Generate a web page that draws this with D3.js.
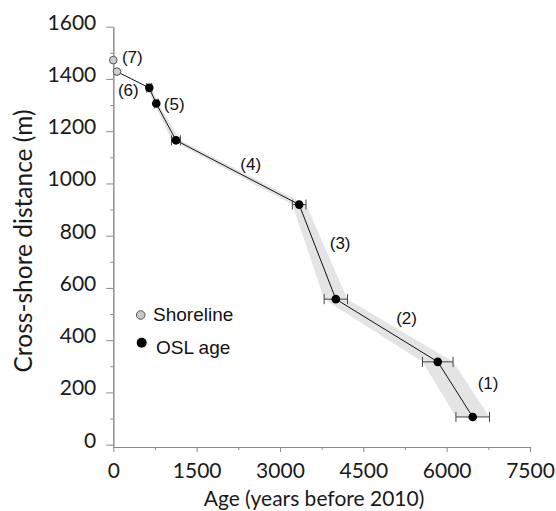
<!DOCTYPE html>
<html>
<head>
<meta charset="utf-8">
<script src="https://cdn.jsdelivr.net/npm/d3@7"></script>
<style>
  body { margin: 0; background: #fff; }
  .axis path, .axis line { stroke: #8a8a8a; }
  .axis text { font-family: Lato, sans-serif; font-size: 21px; fill: #1a1a1a; }
  .label { font-family: "Liberation Sans", Arial, sans-serif; fill: #111; }
</style>
</head>
<body>
<div id="chart"></div>
<script>
// shoreline positions (open circles), labelled (7) and (6)
const shoreAge = [0, 66];
const shoreDist = [1472, 1428];

// OSL ages with 1-sigma error (years)
const oslAge = [647, 773, 1128, 3345, 4005, 5840, 6469];
const oslDist = [1366, 1306, 1165, 919, 557, 317, 106];
const oslErr = [45, 35, 80, 123, 210, 275, 302];

// segment labels, placed in data units
const segLabels = ['(7)', '(6)', '(5)', '(4)', '(3)', '(2)', '(1)'];
const segAge = [342, 270, 1097, 2473, 4083, 5279, 6745];
const segDist = [1460, 1333, 1283, 1053, 750, 462, 213];

const xTicks = [0, 1500, 3000, 4500, 6000, 7500];
const yTicks = [0, 200, 400, 600, 800, 1000, 1200, 1400, 1600];

const width = 556, height = 511;

const svg = d3.select('#chart').append('svg')
    .attr('width', width)
    .attr('height', height);

const xScale = d3.scaleLinear().domain([0, 7500]).range([113.3, 530]);
const yScale = d3.scaleLinear().domain([-9, 1600]).range([447, 26.7]);

const shore = shoreAge.map((a, i) => ({age: a, dist: shoreDist[i]}));
const osl = oslAge.map((a, i) => ({age: a, dist: oslDist[i], err: oslErr[i]}));

// uncertainty band between error bar ends
const band = d3.area()
    .x0(d => xScale(d.age - d.err))
    .x1(d => xScale(d.age + d.err))
    .y(d => yScale(d.dist));

svg.append('path')
    .datum(osl)
    .attr('d', band)
    .attr('fill', '#e4e4e4');

// axes: minor ticks first, then major with labels
svg.append('g')
    .attr('class', 'axis')
    .attr('transform', `translate(0,${yScale(-9)})`)
    .call(d3.axisBottom(xScale).tickValues(d3.range(750, 7500, 1500)).tickSize(3).tickFormat('').tickSizeOuter(0));
svg.append('g')
    .attr('class', 'axis')
    .attr('transform', `translate(${xScale(0)},0)`)
    .call(d3.axisLeft(yScale).tickValues(d3.range(100, 1600, 200)).tickSize(3).tickFormat('').tickSizeOuter(0));

const xAxisG = svg.append('g')
    .attr('class', 'axis')
    .attr('transform', `translate(0,${yScale(-9)})`)
    .call(d3.axisBottom(xScale).tickValues(xTicks).tickFormat(d3.format('d'))
        .tickSize(5).tickPadding(11).tickSizeOuter(0));

const yAxisG = svg.append('g')
    .attr('class', 'axis')
    .attr('transform', `translate(${xScale(0)},0)`)
    .call(d3.axisLeft(yScale).tickValues(yTicks).tickFormat(d3.format('d'))
        .tickSize(7).tickPadding(10).tickSizeOuter(0));
yAxisG.selectAll('text').attr('dy', '0.12em');

// connecting line
const line = d3.line().x(d => xScale(d.age)).y(d => yScale(d.dist));
svg.append('path')
    .datum([shore[1]].concat(osl))
    .attr('d', line)
    .attr('fill', 'none')
    .attr('stroke', '#111')
    .attr('stroke-width', 1);

// error bars
const eb = svg.append('g').attr('stroke', '#444').attr('stroke-width', 1);
eb.selectAll('.eb-h')
  .data(osl)
  .join('line')
    .attr('x1', d => xScale(d.age - d.err))
    .attr('x2', d => xScale(d.age + d.err))
    .attr('y1', d => yScale(d.dist))
    .attr('y2', d => yScale(d.dist));
eb.selectAll('.eb-l')
  .data(osl)
  .join('line')
    .attr('x1', d => xScale(d.age - d.err))
    .attr('x2', d => xScale(d.age - d.err))
    .attr('y1', d => yScale(d.dist) - 5)
    .attr('y2', d => yScale(d.dist) + 5);
eb.selectAll('.eb-r')
  .data(osl)
  .join('line')
    .attr('x1', d => xScale(d.age + d.err))
    .attr('x2', d => xScale(d.age + d.err))
    .attr('y1', d => yScale(d.dist) - 5)
    .attr('y2', d => yScale(d.dist) + 5);

// points
svg.selectAll('.osl')
  .data(osl)
  .join('circle')
    .attr('class', 'osl')
    .attr('cx', d => xScale(d.age))
    .attr('cy', d => yScale(d.dist))
    .attr('r', 4.3)
    .attr('fill', '#000');

svg.selectAll('.shore')
  .data(shore)
  .join('circle')
    .attr('class', 'shore')
    .attr('cx', d => xScale(d.age))
    .attr('cy', d => yScale(d.dist))
    .attr('r', 3.8)
    .attr('fill', '#d0d0d0')
    .attr('stroke', '#555')
    .attr('stroke-width', 1);

// segment labels
svg.selectAll('.seg')
  .data(segLabels)
  .join('text')
    .attr('class', 'label')
    .attr('x', (d, i) => xScale(segAge[i]))
    .attr('y', (d, i) => yScale(segDist[i]))
    .attr('text-anchor', 'middle')
    .attr('font-size', 17)
    .text(d => d);

// legend
const legend = svg.append('g');
legend.append('circle').attr('cx', 140.7).attr('cy', 315).attr('r', 4.3)
    .attr('fill', '#c8c8c8').attr('stroke', '#555');
legend.append('text').attr('class', 'label').attr('x', 153).attr('y', 321)
    .attr('font-size', 19).text('Shoreline');
legend.append('circle').attr('cx', 141.7).attr('cy', 342.7).attr('r', 5)
    .attr('fill', '#000');
legend.append('text').attr('class', 'label').attr('x', 156).attr('y', 354)
    .attr('font-size', 19).text('OSL age');

// axis titles
svg.append('text')
    .attr('x', 314)
    .attr('y', 506)
    .attr('text-anchor', 'middle')
    .style('font-family', 'Lato, sans-serif')
    .style('font-size', '21px')
    .attr('fill', '#1a1a1a')
    .text('Age (years before 2010)');

svg.append('text')
    .attr('transform', 'translate(32,241) rotate(-90)')
    .attr('text-anchor', 'middle')
    .style('font-family', 'Lato, sans-serif')
    .style('font-size', '24.5px')
    .attr('fill', '#1a1a1a')
    .text('Cross-shore distance (m)');
</script>
</body>
</html>
